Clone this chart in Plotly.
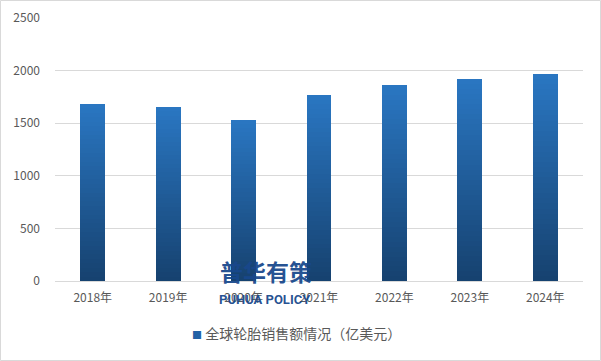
import plotly.graph_objects as go

categories = ["2018年", "2019年", "2020年", "2021年", "2022年", "2023年", "2024年"]
values = [1682, 1654, 1530, 1768, 1863, 1920, 1968]
y_ticks = [0, 500, 1000, 1500, 2000, 2500]
series_name = "全球轮胎销售额情况（亿美元）"

FONT = "Noto Sans CJK SC, Microsoft YaHei, sans-serif"
top_rgb = (42, 118, 193)
bot_rgb = (22, 66, 112)
N = 40

fig = go.Figure()
for i in range(N):
    t = i / (N - 1)
    c = tuple(round(bot_rgb[k] + (top_rgb[k] - bot_rgb[k]) * t) for k in range(3))
    fig.add_trace(go.Bar(
        x=categories, y=[v / N for v in values],
        marker=dict(color=f"rgb{c}", line=dict(width=0)),
        showlegend=False, hoverinfo="skip", width=0.33,
    ))

W, H = 601, 361
ml, mr, mt, mb = 55, 18, 18, 80
pw, ph = W - ml - mr, H - mt - mb

fig.update_layout(
    width=W, height=H, barmode="stack", bargap=0.67,
    margin=dict(l=ml, r=mr, t=mt, b=mb, autoexpand=False),
    paper_bgcolor="white", plot_bgcolor="white",
    font=dict(family=FONT, color="#595959", size=12),
    xaxis=dict(showgrid=False, showline=True, linecolor="#d9d9d9", ticks="", automargin=False,
               tickfont=dict(size=12, color="#595959"), ticklabelstandoff=6),
    yaxis=dict(range=[0, 2500], tickvals=y_ticks, showgrid=True, gridcolor="#d9d9d9", automargin=False,
               zeroline=False, ticks="", ticklen=0, tickfont=dict(size=12, color="#595959"),
               ticklabelstandoff=14),
    showlegend=False,
)

# legend drawn as text
fig.add_annotation(x=(190 - ml) / pw, y=(mt + ph - 333) / ph, xref="paper", yref="paper",
                   showarrow=False, xanchor="left", yanchor="middle",
                   text='<span style="color:rgb(36,98,165);font-size:10px">■</span> ' + series_name,
                   font=dict(size=14, color="#595959", family=FONT))

fig.add_annotation(x=(266 - ml) / pw, y=(mt + ph - 271) / ph, xref="paper", yref="paper",
                   xanchor="center", yanchor="middle",
                   text="<b>普华有策</b>", showarrow=False,
                   font=dict(size=23, color="rgba(24,72,140,0.95)", family=FONT))
fig.add_annotation(x=(265 - ml) / pw, y=(mt + ph - 299) / ph, xref="paper", yref="paper",
                   xanchor="center", yanchor="middle",
                   text="<b>PUHUA POLICY</b>", showarrow=False,
                   font=dict(size=13, color="rgba(24,72,140,0.95)", family="Roboto, sans-serif"))
fig.add_shape(type="rect", xref="paper", yref="paper",
              x0=-(ml - 0.5) / pw, x1=1 + (mr - 0.5) / pw,
              y0=-(mb - 0.5) / ph, y1=1 + (mt - 0.5) / ph,
              line=dict(color="#d9d9d9", width=1))

fig.write_html("out.html", config={"displayModeBar": False},
               post_script="document.body.style.margin='0';document.body.style.padding='0';")
